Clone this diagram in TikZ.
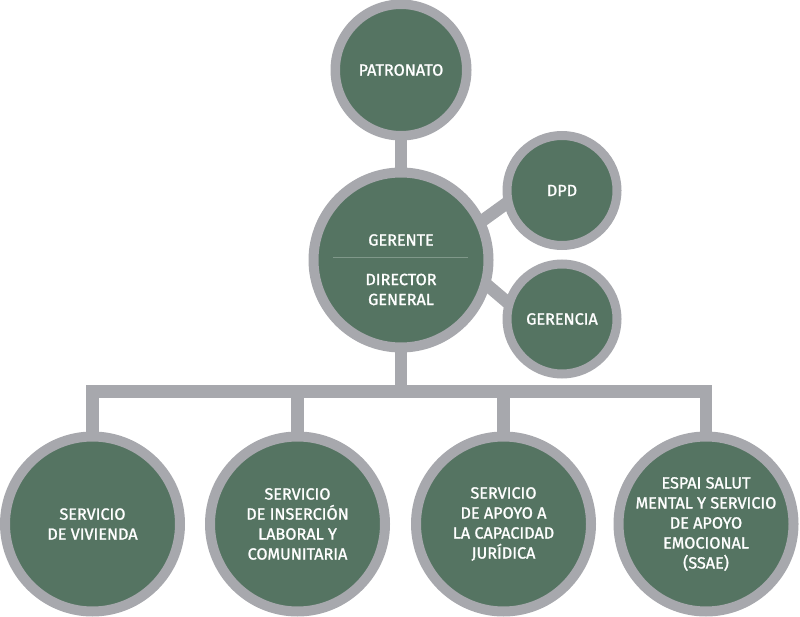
\documentclass[tikz,border=0pt]{standalone}
\usepackage{fontspec}
\setmainfont{Fira Sans}[UprightFeatures={FakeBold=1.3}]
\newcommand\orgfont{\fontsize{16.2}{20}\selectfont}
\definecolor{sage}{RGB}{85,116,98}
\definecolor{ringgray}{RGB}{167,168,173}
\definecolor{sepcol}{RGB}{128,152,138}
\pgfdeclarelayer{bg}
\pgfsetlayers{bg,main}
\begin{document}
\begin{tikzpicture}[x=1pt,y=-1pt,
  unit/.style={circle, draw=ringgray, fill=sage, text=white, inner sep=0pt, align=center, font=\orgfont},
  big/.style={unit, line width=10pt, minimum size=175pt},
  mid/.style={unit, line width=9.5pt, minimum size=131.5pt},
  small/.style={unit, line width=9pt, minimum size=110pt},
  txt/.style={text=white, align=center, font=\orgfont, inner sep=0pt},
  link/.style={draw=ringgray, line width=12.5pt},
  sepline/.style={draw=sepcol, line width=0.8pt}
]
\useasboundingbox (0,0) rectangle (800,617);
\node[mid] (pat) at (401,70) {PATRONATO};
\node[big] (ger) at (401,260) {};
\node[small] (dpd) at (562,190.5) {DPD};
\node[small] (gcia) at (562,319) {GERENCIA};
\node[big] (s1) at (92.5,524) {SERVICIO\\DE VIVIENDA};
\node[big] (s2) at (297.5,524) {SERVICIO\\DE INSERCIÓN\\LABORAL Y\\COMUNITARIA};
\node[big] (s3) at (503.5,524) {SERVICIO\\DE APOYO A\\LA CAPACIDAD\\JURÍDICA};
\node[big] (s4) at (706,524) {ESPAI SALUT\\MENTAL Y SERVICIO\\DE APOYO\\EMOCIONAL\\(SSAE)};
\node[txt] (gt) at (401,240) {GERENTE};
\node[txt] (gd) at (401,289.5) {DIRECTOR\\GENERAL};
\draw[sepline] (333,257) -- (468,257);
\coordinate (bar) at (401,391.5);
\begin{pgfonlayer}{bg}
\draw[link] (pat.center) -- (ger.center);
\draw[link, line join=miter] (s1.center) |- (bar) -| (s4.center);
\draw[link] (ger.center) -- (bar);
\draw[link] (s2.center) -- (s2.center |- bar);
\draw[link] (s3.center) -- (s3.center |- bar);
\draw[link, shorten <=-10pt, shorten >=-10pt] (ger.26) -- (dpd.194);
\draw[link, shorten <=-10pt, shorten >=-10pt] (ger.-17) -- (gcia.162);
\end{pgfonlayer}
\end{tikzpicture}
\end{document}
